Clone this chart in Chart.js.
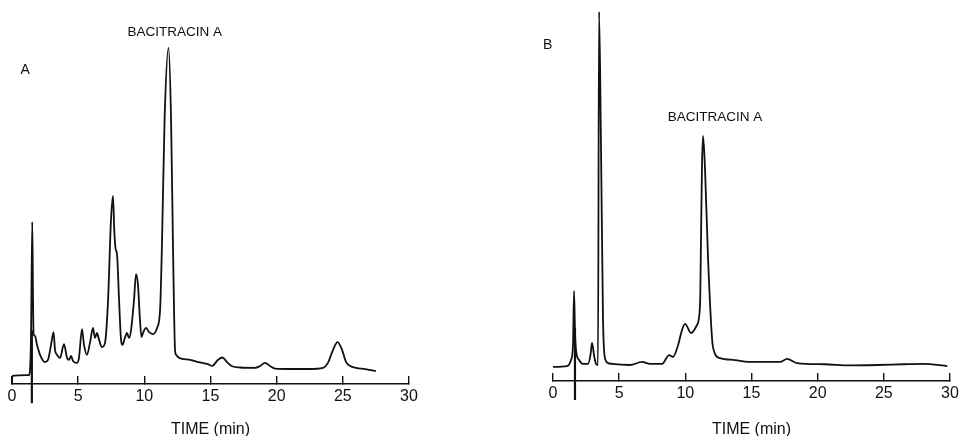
<!DOCTYPE html>
<html>
<head>
<meta charset="utf-8">
<script src="https://cdn.jsdelivr.net/npm/chart.js@4.4.0/dist/chart.umd.min.js"></script>
<style>
  html, body { margin: 0; padding: 0; background: #fff; overflow: hidden; }
  #wrap { position: relative; width: 961px; height: 436px; overflow: hidden; }
  .panel { position: absolute; top: 0; width: 500px; height: 436px; }
  #panelA { left: -20px; }
  #panelB { left: 480px; }
</style>
</head>
<body>
<div id="wrap">
  <div class="panel" id="panelA"><canvas id="chartA"></canvas></div>
  <div class="panel" id="panelB"><canvas id="chartB"></canvas></div>
</div>
<script>
// retention time (min) and detector response (arbitrary units, % of full scale)
const timeA = [0, 0.02, 1.28, 1.36, 1.44, 1.53, 1.59, 1.63, 1.74, 1.89, 2.12, 2.49, 2.72, 2.95, 3.14, 3.25,
  3.40, 3.63, 3.93, 4.16, 4.31, 4.46, 4.61, 4.91, 5.06, 5.29, 5.44, 5.67, 5.90, 6.12, 6.27, 6.42, 6.58,
  6.80, 7.03, 7.26, 7.48, 7.63, 7.73, 7.82, 7.94, 8.09, 8.24, 8.35, 8.53, 8.69, 8.84, 9.00, 9.22, 9.37,
  9.52, 9.67, 9.79, 9.90, 10.13, 10.36, 10.66, 10.96, 11.19, 11.34, 11.53, 11.83, 12.02, 12.17, 12.32,
  12.40, 12.62, 13.45, 14.20, 14.80, 15.12, 15.57, 15.90, 16.25, 16.60, 17.23, 18.37, 18.75, 19.12,
  19.50, 19.88, 21.0, 22.5, 23.5, 23.9, 24.26, 24.6, 24.94, 25.25, 25.55, 26.0, 26.68, 27.5];
const signalA = [0, 2.1, 2.3, 3.6, 12.8, 42.2, 21.9, 13.0, 12.5, 10.2, 7.6, 5.7, 6.3, 10.2, 13.5, 8.9,
  7.6, 6.8, 10.4, 6.8, 6.3, 7.3, 6.0, 5.5, 6.8, 14.3, 10.2, 7.6, 10.9, 14.6, 12.0, 13.3, 11.5,
  9.6, 10.7, 21.9, 42.7, 49.0, 40.0, 35.4, 33.6, 21.9, 11.5, 10.2, 12.0, 13.3, 12.0, 14.1, 21.9, 28.6,
  25.8, 16.7, 12.2, 13.3, 14.6, 13.5, 13.0, 14.6, 19.3, 37.5, 68.8, 87.5, 68.8, 34.9, 8.9,
  7.6, 6.8, 6.3, 5.6, 5.2, 4.7, 6.3, 6.9, 5.7, 4.7, 4.3, 4.2, 4.7, 5.5,
  4.7, 4.0, 3.9, 3.9, 4.2, 5.7, 8.9, 10.9, 8.9, 5.7, 4.7, 4.2, 3.9, 3.4];

const timeB = [0, 1.06, 1.36, 1.51, 1.59, 1.66, 1.74, 1.97, 2.27, 2.65, 2.83, 2.95, 3.10, 3.25, 3.40,
  3.48, 3.63, 3.78, 3.93, 4.16, 4.46, 5.82, 6.73, 7.33, 8.24, 8.77, 9.07, 9.45, 9.75, 9.98, 10.43,
  10.88, 11.11, 11.19, 11.26, 11.34, 11.49, 11.72, 12.09, 12.62, 13.76, 14.74, 17.16, 17.69, 18.44,
  20.5, 22.5, 24.5, 26.5, 28.0, 29.8];
const signalB = [3.7, 3.9, 5.5, 9.4, 23.6, 13.4, 8.1, 5.5, 4.5, 4.5, 6.8, 10.0, 6.8, 4.5, 4.2,
  96.9, 60.6, 16.0, 6.0, 4.7, 4.5, 4.2, 5.0, 4.5, 4.5, 6.8, 6.3, 9.4, 13.4, 15.0, 12.6,
  14.7, 19.9, 38.8, 56.7, 64.3, 55.4, 31.8, 8.9, 6.0, 5.5, 5.0, 5.0, 5.8, 4.7,
  4.4, 4.1, 4.2, 4.4, 4.5, 3.9];

// injection marks (time, from / to response)
const injectA = [1.5, -5, 14];
const injectB = [1.66, -5, 14];

const timeTicks = [0, 5, 10, 15, 20, 25, 30];

const ink = '#111';
const fontFace = "'Liberation Sans', Arial, Helvetica, sans-serif";

const textMarks = {
  id: 'textMarks',
  afterDraw(chart, args, opts) {
    const ctx = chart.ctx;
    const x = chart.scales.x, y = chart.scales.y;
    ctx.save();
    ctx.fillStyle = ink;
    ctx.textAlign = 'center';
    ctx.textBaseline = 'middle';
    opts.items.forEach(it => {
      ctx.font = it.font;
      ctx.fillText(it.text, x.getPixelForValue(it.t), y.getPixelForValue(it.v));
    });
    ctx.restore();
  }
};

function toPoints(ts, vs) {
  return ts.map((t, i) => ({ x: t, y: vs[i] }));
}

function buildPanel(canvasId, times, values, inject, pad, axisH, labels) {
  const ctx = document.getElementById(canvasId).getContext('2d');
  return new Chart(ctx, {
    type: 'line',
    data: {
      datasets: [{
        data: toPoints(times, values),
        borderColor: ink,
        borderWidth: 1.8,
        pointRadius: 0,
        cubicInterpolationMode: 'monotone',
        fill: false
      }, {
        data: [{ x: inject[0], y: inject[1] }, { x: inject[0], y: inject[2] }],
        borderColor: ink,
        borderWidth: 2.2,
        pointRadius: 0,
        clip: false
      }]
    },
    options: {
      responsive: true,
      maintainAspectRatio: false,
      animation: false,
      layout: { padding: pad },
      plugins: {
        legend: { display: false },
        tooltip: { enabled: false },
        textMarks: { items: labels }
      },
      scales: {
        x: {
          type: 'linear',
          min: 0,
          max: 30,
          afterBuildTicks: s => { s.ticks = timeTicks.map(v => ({ value: v })); },
          afterFit: s => { s.height = axisH; },
          grid: {
            display: true,
            drawOnChartArea: false,
            drawTicks: true,
            tickLength: -8,
            color: ink,
            lineWidth: 1.4
          },
          border: { display: true, color: ink, width: 1.6 },
          ticks: {
            color: ink,
            padding: 11,
            maxRotation: 0,
            font: { family: fontFace, size: 16 }
          },
          title: {
            display: true,
            text: 'TIME (min)',
            color: ink,
            font: { family: fontFace, size: 16 },
            padding: { top: 0, bottom: -3 }
          }
        },
        y: {
          display: false,
          min: 0,
          max: 100
        }
      }
    },
    plugins: [textMarks]
  });
}

buildPanel('chartA', timeA, signalA, injectA,
  { left: 32, right: 71, top: 0, bottom: 0 }, 52, [
    { text: 'A', t: 1.0, v: 81.8, font: '14px ' + fontFace },
    { text: 'BACITRACIN A', t: 12.3, v: 91.7, font: '13.5px ' + fontFace }
  ]);

buildPanel('chartB', timeB, signalB, injectB,
  { left: 73, right: 30, top: 0, bottom: 0 }, 55, [
    { text: 'B', t: -0.4, v: 88.2, font: '14px ' + fontFace },
    { text: 'BACITRACIN A', t: 12.25, v: 69.3, font: '13.5px ' + fontFace }
  ]);
</script>
</body>
</html>
